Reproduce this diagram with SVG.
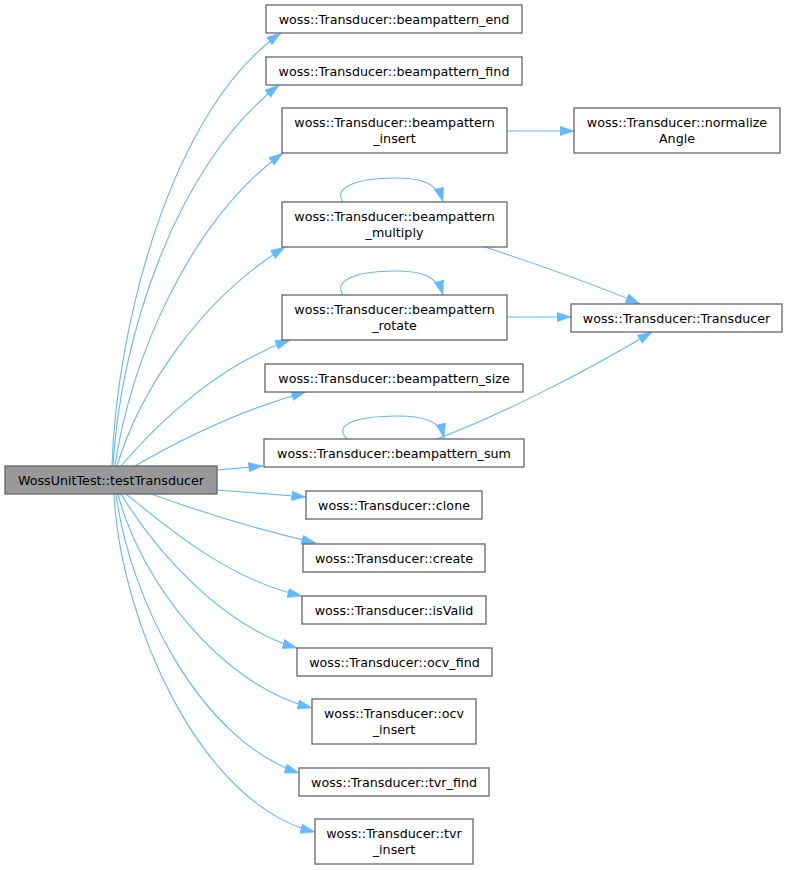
<svg xmlns="http://www.w3.org/2000/svg" width="788" height="870" viewBox="0 0 788 870">
<style>
.n rect{fill:#ffffff;stroke:#666666;stroke-width:1.3}
#root rect{fill:#999999}
.n text{font-family:"DejaVu Sans",sans-serif;font-size:12.7px;fill:#000;text-anchor:middle}
.e path{fill:none;stroke:#63b8ff;stroke-width:1.1;marker-end:url(#ah)}
</style>
<defs>
<marker id="ah" markerUnits="userSpaceOnUse" markerWidth="15" markerHeight="10" refX="14.5" refY="4.8" orient="auto">
<path d="M0,0 L14.5,4.8 L0,9.6 Z" fill="#63b8ff" stroke="#63b8ff" stroke-width="0.5"/>
</marker>
</defs>
<rect width="788" height="870" fill="#ffffff"/>
<g id="edges" class="e">
<path d="M112,466 C116,330 170,110 281,33"/>
<path d="M113,466 C120,340 175,165 279,85"/>
<path d="M115,466 C130,360 190,220 283,153"/>
<path d="M117,466 C140,390 200,300 285,247"/>
<path d="M121,466 C160,420 220,365 290,340"/>
<path d="M135,466 C180,440 240,410 306,392"/>
<path d="M217,470 L263,466"/>
<path d="M217,490 L306,497"/>
<path d="M151,494 C190,508 250,528 316,543"/>
<path d="M126,494 C170,530 230,580 302,596"/>
<path d="M121,494 C155,550 220,625 297,648"/>
<path d="M118,494 C140,580 220,685 312,708"/>
<path d="M116,494 C130,600 200,740 299,773"/>
<path d="M114,494 C120,620 200,805 315,832"/>
<path d="M507,131 L574,131"/>
<path d="M485,247 C530,262 590,282 640,304"/>
<path d="M507,317 L571,317"/>
<path d="M437,439 C500,415 580,375 652,332"/>
<path d="M343,202 C333,188 355,178 395,178 C420,178 437,182 443,202"/>
<path d="M343,295 C333,281 355,271 395,271 C420,271 437,275 443,295"/>
<path d="M347,439 C333,425 355,416 397,416 C422,416 440,420 444,438"/>
</g>
<g id="root" class="n"><rect x="5" y="466" width="212" height="28"/><text x="111" y="484.5">WossUnitTest::testTransducer</text></g>
<g id="n_end" class="n"><rect x="266" y="5" width="256" height="28"/><text x="394" y="23.5">woss::Transducer::beampattern_end</text></g>
<g id="n_find" class="n"><rect x="266" y="57" width="256" height="28"/><text x="394" y="75.5">woss::Transducer::beampattern_find</text></g>
<g id="n_insert" class="n"><rect x="282" y="108" width="225" height="45"/><text x="394.5" y="127">woss::Transducer::beampattern</text><text x="394.5" y="143">_insert</text></g>
<g id="n_normalize" class="n"><rect x="574" y="108" width="206" height="45"/><text x="677" y="127">woss::Transducer::normalize</text><text x="677" y="143">Angle</text></g>
<g id="n_multiply" class="n"><rect x="282" y="202" width="225" height="45"/><text x="394.5" y="221">woss::Transducer::beampattern</text><text x="394.5" y="237">_multiply</text></g>
<g id="n_rotate" class="n"><rect x="282" y="295" width="225" height="45"/><text x="394.5" y="314">woss::Transducer::beampattern</text><text x="394.5" y="330">_rotate</text></g>
<g id="n_transducer" class="n"><rect x="571" y="304" width="211" height="28"/><text x="676.5" y="322.5">woss::Transducer::Transducer</text></g>
<g id="n_size" class="n"><rect x="265" y="364" width="258" height="28"/><text x="394" y="382.5">woss::Transducer::beampattern_size</text></g>
<g id="n_sum" class="n"><rect x="264" y="439" width="260" height="28"/><text x="394" y="457.5">woss::Transducer::beampattern_sum</text></g>
<g id="n_clone" class="n"><rect x="306" y="491" width="176" height="28"/><text x="394" y="509.5">woss::Transducer::clone</text></g>
<g id="n_create" class="n"><rect x="303" y="544" width="182" height="28"/><text x="394" y="562.5">woss::Transducer::create</text></g>
<g id="n_isvalid" class="n"><rect x="302" y="596" width="184" height="28"/><text x="394" y="614.5">woss::Transducer::isValid</text></g>
<g id="n_ocvfind" class="n"><rect x="297" y="648" width="195" height="28"/><text x="394.5" y="666.5">woss::Transducer::ocv_find</text></g>
<g id="n_ocvinsert" class="n"><rect x="312" y="699" width="164" height="45"/><text x="394" y="718">woss::Transducer::ocv</text><text x="394" y="734">_insert</text></g>
<g id="n_tvrfind" class="n"><rect x="299" y="768" width="190" height="28"/><text x="394" y="786.5">woss::Transducer::tvr_find</text></g>
<g id="n_tvrinsert" class="n"><rect x="315" y="819" width="158" height="45"/><text x="394" y="838">woss::Transducer::tvr</text><text x="394" y="854">_insert</text></g>
</svg>
